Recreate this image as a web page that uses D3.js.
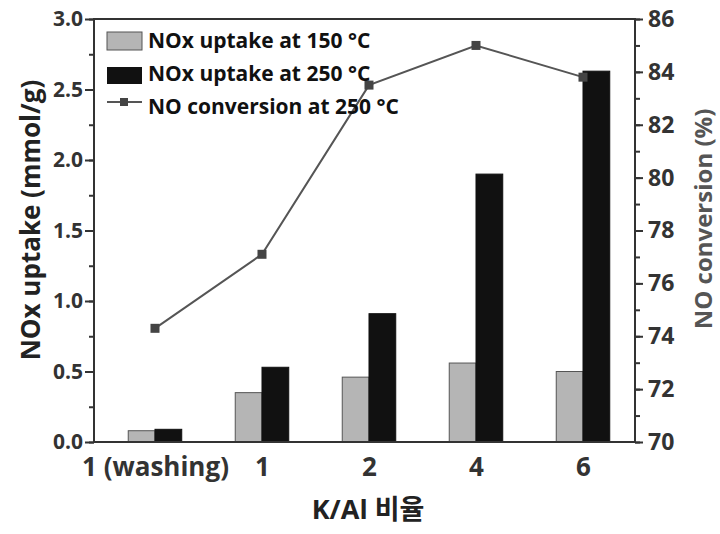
<!DOCTYPE html>
<html lang="en">
<head>
<meta charset="UTF-8">
<title>NOx uptake</title>
<style>
  body { margin: 0; background: #fff; }
  svg { display: block; }
  text { font-family: "Open Sans", "Noto Sans CJK KR", sans-serif; font-weight: bold; }
</style>
</head>
<body>
<svg id="chart" width="720" height="534"></svg>
<script src="https://d3js.org/d3.v7.min.js"></script>
<script>
// values
var categories = ["1 (washing)", "1", "2", "4", "6"];
var uptake150 = [0.08, 0.35, 0.46, 0.56, 0.50];
var uptake250 = [0.09, 0.53, 0.91, 1.90, 2.63];
var conversion250 = [74.3, 77.1, 83.5, 85.0, 83.8];
var leftTicks = [0, 0.5, 1.0, 1.5, 2.0, 2.5, 3.0];
var rightTicks = [70, 72, 74, 76, 78, 80, 82, 84, 86];
var legendLabels = ["NOx uptake at 150 °C", "NOx uptake at 250 °C", "NO conversion at 250 °C"];

var svg = d3.select("#chart"),
  plotL = 94, plotR = 635, plotT = 19, plotB = 442,
  axisColor = "#333";

var x = d3.scaleLinear().domain([-0.57, 4.486]).range([plotL, plotR]),
  y = d3.scaleLinear().domain([0, 3]).range([plotB, plotT]),
  y2 = d3.scaleLinear().domain([70, 86]).range([plotB, plotT]),
  barW = x(0.25) - x(0);

var idx = d3.range(categories.length);

// bars
svg.append("g").selectAll("rect")
  .data(idx).enter().append("rect")
  .attr("x", function (i) { return x(i) - barW; })
  .attr("y", function (i) { return y(uptake150[i]); })
  .attr("width", barW)
  .attr("height", function (i) { return y(0) - y(uptake150[i]); })
  .attr("fill", "#b5b5b5")
  .attr("stroke", "#555")
  .attr("stroke-width", 1);

svg.append("g").selectAll("rect")
  .data(idx).enter().append("rect")
  .attr("x", function (i) { return x(i); })
  .attr("y", function (i) { return y(uptake250[i]); })
  .attr("width", barW)
  .attr("height", function (i) { return y(0) - y(uptake250[i]); })
  .attr("fill", "#111")
  .attr("stroke", "#111")
  .attr("stroke-width", 1);

// conversion line
var line = d3.line()
  .x(function (i) { return x(i); })
  .y(function (i) { return y2(conversion250[i]); });

svg.append("path")
  .datum(idx)
  .attr("d", line)
  .attr("fill", "none")
  .attr("stroke", "#555")
  .attr("stroke-width", 2);

svg.append("g").selectAll("rect")
  .data(idx).enter().append("rect")
  .attr("x", function (i) { return x(i) - 4.5; })
  .attr("y", function (i) { return y2(conversion250[i]) - 4.5; })
  .attr("width", 9).attr("height", 9)
  .attr("fill", "#444");

// axes
function styleAxis(g, size) {
  g.select(".domain").remove();
  g.selectAll("line").attr("stroke", axisColor).attr("stroke-width", 2);
  g.selectAll("text").attr("fill", axisColor).style("font-size", size + "px");
}

var minorLeft = d3.range(0, 3.01, 0.25);
svg.append("g").attr("transform", "translate(" + plotL + ",0)")
  .call(d3.axisLeft(y).tickValues(minorLeft).tickSize(5).tickFormat(""))
  .call(styleAxis, 20);
svg.append("g").attr("transform", "translate(" + plotL + ",0)")
  .call(d3.axisLeft(y).tickValues(leftTicks).tickSize(9).tickPadding(2).tickFormat(d3.format(".1f")))
  .call(styleAxis, 21);

svg.append("g").attr("transform", "translate(" + plotR + ",0)")
  .call(d3.axisRight(y2).tickValues(d3.range(70, 86.1, 1)).tickSize(5).tickFormat(""))
  .call(styleAxis, 20);
svg.append("g").attr("transform", "translate(" + plotR + ",0)")
  .call(d3.axisRight(y2).tickValues(rightTicks).tickSize(8).tickPadding(5))
  .call(styleAxis, 23);

svg.append("g").attr("transform", "translate(0," + plotB + ")")
  .call(d3.axisBottom(x).tickValues(idx).tickSize(0).tickPadding(16)
    .tickFormat(function (i) { return categories[i]; }))
  .call(styleAxis, 26);

// frame
svg.append("rect")
  .attr("x", plotL).attr("y", plotT)
  .attr("width", plotR - plotL).attr("height", plotB - plotT)
  .attr("fill", "none").attr("stroke", axisColor).attr("stroke-width", 2);

// titles
svg.append("text")
  .attr("transform", "translate(40,220) rotate(-90)")
  .attr("text-anchor", "middle")
  .attr("fill", "#222")
  .style("font-size", "26px")
  .text("NOx uptake (mmol/g)");

svg.append("text")
  .attr("transform", "translate(712,219) rotate(-90)")
  .attr("text-anchor", "middle")
  .attr("fill", "#555")
  .style("font-size", "24px")
  .text("NO conversion (%)");

svg.append("text")
  .attr("x", 368).attr("y", 519)
  .attr("text-anchor", "middle")
  .attr("fill", "#222")
  .style("font-size", "27px")
  .text("K/Al 비율");

// legend
var legend = svg.append("g").attr("transform", "translate(107,32)");
legend.append("rect").attr("x", 0).attr("y", 0).attr("width", 35).attr("height", 18)
  .attr("fill", "#b5b5b5").attr("stroke", "#555");
legend.append("rect").attr("x", 0).attr("y", 35).attr("width", 35).attr("height", 17)
  .attr("fill", "#111");
legend.append("line").attr("x1", 0).attr("x2", 35).attr("y1", 70).attr("y2", 70)
  .attr("stroke", "#555").attr("stroke-width", 2);
legend.append("rect").attr("x", 13).attr("y", 66).attr("width", 8).attr("height", 8)
  .attr("fill", "#444");
legend.selectAll("text")
  .data(legendLabels).enter().append("text")
  .attr("x", 41)
  .attr("y", function (d, i) { return 9 + i * 33; })
  .attr("dy", "0.35em")
  .attr("fill", "#111")
  .style("font-size", "21px")
  .text(function (d) { return d; });
</script>
</body>
</html>
